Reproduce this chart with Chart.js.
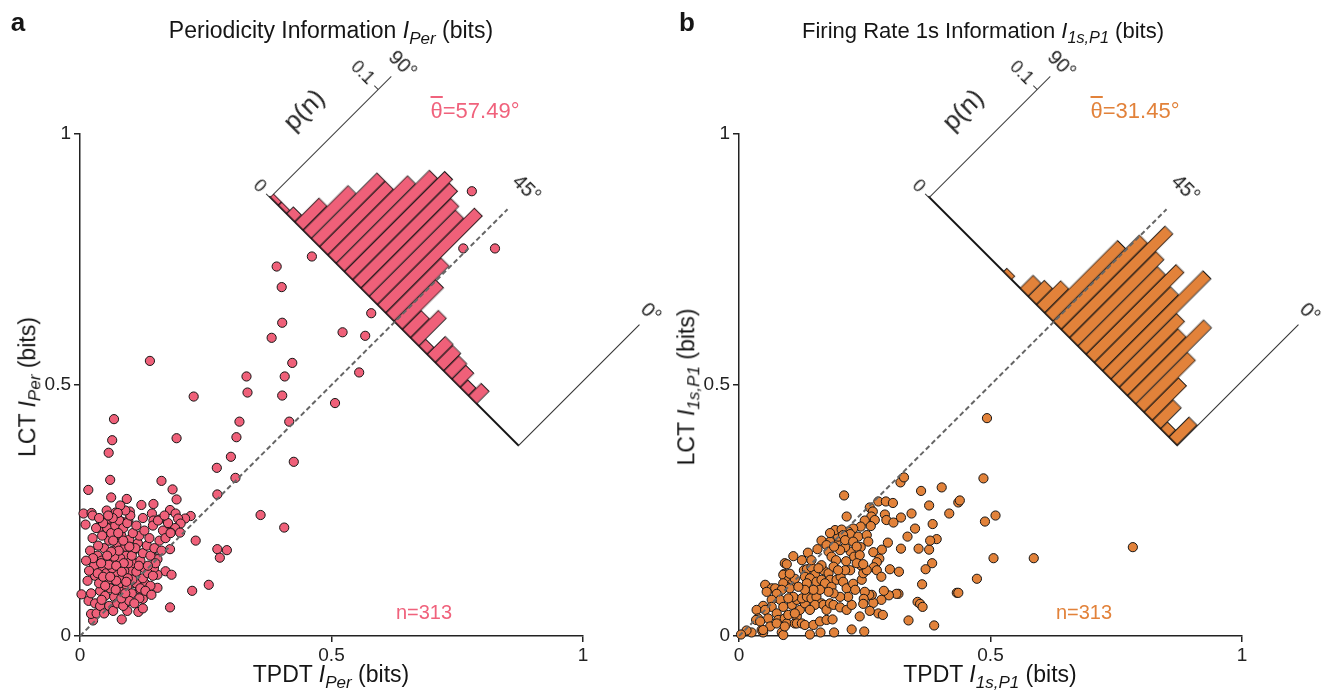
<!DOCTYPE html>
<html>
<head>
<meta charset="utf-8">
<script src="https://cdn.jsdelivr.net/npm/chart.js@4.4.0/dist/chart.umd.min.js"></script>
<style>
  body { margin:0; width:1332px; height:696px; position:relative; overflow:hidden; background:#fff;
         font-family:'Liberation Sans', Arial, sans-serif; color:#151515; }
  canvas { position:absolute; }
  .hist { z-index:1; transform:rotate(45deg); transform-origin:52px 221px; }
  .sc { z-index:2; top:0; }
  .t { position:absolute; z-index:3; transform:translate(-50%,-50%); white-space:nowrap; line-height:1; }
  .t sub { font-size:0.74em; vertical-align:-0.32em; font-style:italic; }
  .ylab { transform:translate(-50%,-50%) rotate(-90deg); }
  .panel { font-weight:bold; font-size:26px; }
  .axt { font-size:23px; }
  .ov { text-decoration:overline; }
</style>
</head>
<body>
<canvas id="histA" class="hist" width="423" height="245" style="left:218px;top:-24px"></canvas>
<canvas id="histB" class="hist" width="423" height="245" style="left:877px;top:-24px"></canvas>
<canvas id="scA" class="sc" width="660" height="696" style="left:0"></canvas>
<canvas id="scB" class="sc" width="660" height="696" style="left:659px"></canvas>

<div class="t panel" style="left:18px;top:22px">a</div>
<div class="t" style="left:331px;top:33px;font-size:23px">Periodicity Information <i>I</i><sub>Per</sub> (bits)</div>
<div class="t" style="left:475px;top:111px;font-size:22px;color:#F0627C"><span class="ov">θ</span>=57.49°</div>
<div class="t" style="left:424px;top:612px;font-size:20px;color:#F0627C">n=313</div>
<div class="t axt" style="left:331px;top:677px">TPDT <i>I</i><sub>Per</sub> (bits)</div>
<div class="t axt ylab" style="left:30px;top:387px">LCT <i>I</i><sub>Per</sub> (bits)</div>

<div class="t panel" style="left:687px;top:22px">b</div>
<div class="t" style="left:983px;top:33px;font-size:22px">Firing Rate 1s Information <i>I</i><sub>1s,P1</sub> (bits)</div>
<div class="t" style="left:1135px;top:111px;font-size:22px;color:#E2823A"><span class="ov">θ</span>=31.45°</div>
<div class="t" style="left:1084px;top:612px;font-size:20px;color:#E2823A">n=313</div>
<div class="t axt" style="left:990px;top:677px">TPDT <i>I</i><sub>1s,P1</sub> (bits)</div>
<div class="t axt ylab" style="left:689px;top:387px">LCT <i>I</i><sub>1s,P1</sub> (bits)</div>

<script>
const FONT = "'Liberation Sans', Arial, sans-serif";
Chart.defaults.font.family = FONT;
Chart.defaults.color = '#222';

const PINK = '#EF6079';
const ORANGE = '#E2823A';

// scatter axes
const axisTicks = [0, 0.5, 1];
const diagX = [0, 0.85];
const diagY = [0, 0.85];

// angle histogram: 3° bins, listed from the 90° end to the 0° end
const binLo = [87, 84, 81, 78, 75, 72, 69, 66, 63, 60, 57, 54, 51, 48, 45,
               42, 39, 36, 33, 30, 27, 24, 21, 18, 15, 12, 9, 6, 3, 0];
const angleTicks = [90, 45, 0];
const pTicks = [0, 0.1];
const pMax = 0.1118;

const pPer = [0.0032, 0.0032, 0.0064, 0.0224, 0.0415, 0.0607, 0.0607, 0.0735, 0.0863, 0.0927,
              0.0895, 0.0831, 0.0799, 0.0895, 0.0511, 0.0383, 0.0176, 0.0256, 0.0064, 0.0166,
              0.0160, 0.0140, 0.0128, 0.0070, 0.0115, 0, 0, 0, 0, 0];
const p1s = [0, 0, 0, 0, 0, 0, 0, 0, 0, 0.0032,
             0, 0.0120, 0.0150, 0.0224, 0.0671, 0.0799, 0.0958, 0.0799, 0.0735, 0.0831,
             0.0703, 0.0927, 0.0607, 0.0543, 0.0703, 0.0479, 0.0319, 0.0192, 0.0064, 0.0185];

// TPDT vs LCT, periodicity information (x, y)
const perPts = [
  [0.779,0.886],[0.762,0.772],[0.825,0.772],[0.461,0.756],[0.391,0.736],[0.401,0.695],[0.579,0.643],
  [0.402,0.624],[0.522,0.605],[0.567,0.598],[0.381,0.594],[0.139,0.548],[0.422,0.544],[0.555,0.525],
  [0.331,0.517],[0.407,0.517],[0.333,0.485],[0.402,0.479],[0.226,0.477],[0.507,0.464],[0.0676,0.432],
  [0.317,0.427],[0.416,0.427],[0.311,0.396],[0.192,0.394],[0.064,0.390],[0.057,0.365],[0.300,0.357],
  [0.425,0.347],[0.272,0.335],[0.309,0.315],[0.060,0.311],[0.162,0.309],[0.184,0.292],[0.0165,0.291],
  [0.273,0.282],[0.062,0.276],[0.093,0.273],[0.192,0.272],[0.146,0.263],[0.122,0.261],[0.359,0.241],
  [0.406,0.216],[0.220,0.239],[0.209,0.234],[0.230,0.190],[0.273,0.173],[0.292,0.171],[0.278,0.156],
  [0.256,0.102],[0.223,0.090],
  [0.007,0.244],[0.023,0.245],[0.025,0.240],[0.011,0.222],[0.053,0.250],[0.071,0.246],[0.041,0.231],
  [0.053,0.227],[0.060,0.216],[0.038,0.215],[0.082,0.228],[0.096,0.230],[0.099,0.248],[0.125,0.235],
  [0.143,0.244],[0.146,0.230],[0.158,0.232],[0.179,0.251],[0.190,0.244],[0.195,0.234],[0.200,0.224],
  [0.174,0.213],[0.189,0.215],[0.199,0.206],[0.180,0.206],[0.179,0.173],[0.149,0.155],[0.154,0.153],
  [0.170,0.129],[0.182,0.122],[0.154,0.122],[0.147,0.135],[0.129,0.105],[0.154,0.096],[0.125,0.074],
  [0.116,0.048],[0.094,0.050],[0.179,0.057],[0.083,0.033],[0.026,0.031],[0.022,0.044],[0.033,0.045],
  [0.003,0.083],[0.017,0.070],[0.109,0.105],[0.119,0.092],
  [0.030,0.120],[0.045,0.135],[0.055,0.110],[0.062,0.150],[0.070,0.125],[0.078,0.140],[0.085,0.115],
  [0.092,0.160],[0.100,0.130],[0.108,0.145],[0.035,0.160],[0.048,0.175],[0.058,0.190],[0.066,0.170],
  [0.074,0.185],[0.082,0.200],[0.090,0.178],[0.098,0.192],[0.106,0.170],[0.115,0.185],[0.040,0.090],
  [0.050,0.080],[0.060,0.095],[0.068,0.078],[0.076,0.100],[0.084,0.088],[0.094,0.098],[0.103,0.085],
  [0.112,0.105],[0.120,0.095],[0.028,0.140],[0.038,0.105],[0.043,0.150],[0.052,0.125],[0.064,0.135],
  [0.072,0.110],[0.080,0.155],[0.088,0.130],[0.096,0.145],[0.104,0.112],[0.112,0.128],[0.120,0.150],
  [0.128,0.135],[0.125,0.165],[0.133,0.180],[0.140,0.160],[0.118,0.200],[0.128,0.210],[0.138,0.195],
  [0.148,0.175],[0.020,0.170],[0.025,0.195],[0.032,0.215],[0.044,0.200],[0.054,0.215],[0.062,0.205],
  [0.070,0.220],[0.078,0.230],[0.086,0.215],[0.094,0.225],[0.015,0.110],[0.022,0.085],[0.030,0.065],
  [0.040,0.060],[0.048,0.045],[0.058,0.060],[0.066,0.050],[0.074,0.065],[0.086,0.060],[0.098,0.070],
  [0.035,0.125],[0.046,0.118],[0.057,0.142],[0.068,0.158],[0.077,0.170],[0.087,0.145],[0.095,0.115],
  [0.103,0.160],[0.110,0.175],[0.117,0.140],[0.060,0.118],[0.071,0.092],[0.082,0.075],[0.090,0.085],
  [0.050,0.100],[0.043,0.072],[0.036,0.180],[0.026,0.155],[0.018,0.130],[0.012,0.150],[0.150,0.145],
  [0.158,0.190],[0.165,0.210],[0.145,0.220],[0.155,0.230],[0.170,0.195],[0.162,0.170],[0.175,0.225],
  [0.168,0.240],[0.180,0.205],[0.105,0.205],[0.112,0.220],[0.100,0.240],[0.090,0.250],[0.080,0.260],
  [0.075,0.245],[0.065,0.235],[0.056,0.240],[0.046,0.225],[0.038,0.235],[0.125,0.115],[0.135,0.125],
  [0.140,0.100],[0.130,0.090],[0.145,0.120],[0.118,0.075],[0.108,0.065],[0.125,0.055],[0.135,0.140],
  [0.142,0.082],[0.062,0.168],[0.072,0.140],[0.083,0.128],[0.092,0.108],[0.098,0.178],[0.086,0.190],
  [0.076,0.205],[0.066,0.190],[0.054,0.160],[0.042,0.145]
];

// TPDT vs LCT, firing rate 1s information (x, y)
const fr1sPts = [
  [0.486,0.314],[0.403,0.296],[0.362,0.289],[0.321,0.306],[0.328,0.316],[0.209,0.280],[0.436,0.266],
  [0.439,0.270],[0.378,0.260],[0.277,0.268],[0.292,0.268],[0.306,0.265],[0.260,0.256],[0.266,0.248],
  [0.263,0.238],[0.290,0.242],[0.293,0.231],[0.307,0.226],[0.322,0.236],[0.343,0.244],[0.418,0.244],
  [0.489,0.228],[0.510,0.240],[0.385,0.223],[0.350,0.214],[0.335,0.198],[0.296,0.186],[0.214,0.238],
  [0.493,0.434],[0.586,0.155],[0.783,0.177],
  [0.250,0.230],[0.270,0.231],[0.262,0.219],[0.242,0.218],[0.227,0.214],[0.217,0.208],[0.221,0.203],
  [0.237,0.198],[0.254,0.201],[0.257,0.188],[0.242,0.177],[0.222,0.168],[0.211,0.177],[0.201,0.171],
  [0.194,0.188],[0.197,0.198],[0.191,0.211],[0.204,0.212],[0.207,0.201],[0.181,0.188],[0.164,0.190],
  [0.156,0.173],[0.174,0.181],[0.178,0.168],[0.189,0.178],[0.184,0.158],[0.193,0.151],[0.213,0.149],
  [0.181,0.205],[0.211,0.191],[0.227,0.188],[0.234,0.178],[0.229,0.158],[0.240,0.161],
  [0.322,0.174],[0.357,0.174],[0.378,0.172],[0.393,0.193],[0.380,0.190],[0.284,0.172],[0.267,0.167],
  [0.279,0.154],[0.274,0.147],[0.268,0.137],[0.274,0.131],[0.300,0.133],[0.318,0.128],[0.384,0.145],
  [0.371,0.133],[0.506,0.155],[0.473,0.114],[0.364,0.103],[0.433,0.086],[0.436,0.086],[0.355,0.068],
  [0.360,0.064],[0.365,0.058],[0.337,0.031],[0.388,0.021],[0.317,0.084],[0.313,0.084],[0.298,0.081],
  [0.283,0.118],[0.288,0.090],[0.283,0.072],[0.277,0.045],[0.286,0.042],[0.267,0.066],[0.264,0.082],
  [0.259,0.082],[0.250,0.088],[0.248,0.074],[0.247,0.064],[0.240,0.039],[0.260,0.050],[0.249,0.009],
  [0.224,0.013],[0.189,0.007],[0.162,0.007],[0.141,0.003],[0.085,0.007],[0.088,0.002],[0.048,0.007],
  [0.045,0.012],[0.025,0.007],[0.015,0.011],[0.004,0.003],
  [0.108,0.159],[0.091,0.145],[0.095,0.143],[0.090,0.124],[0.088,0.122],[0.098,0.111],[0.105,0.104],
  [0.111,0.114],[0.101,0.124],[0.137,0.166],[0.129,0.131],[0.135,0.133],[0.144,0.137],[0.151,0.122],
  [0.131,0.118],[0.141,0.115],[0.135,0.105],[0.154,0.108],[0.164,0.112],[0.168,0.131],[0.178,0.125],
  [0.181,0.112],[0.171,0.105],[0.184,0.098],[0.194,0.112],[0.202,0.118],[0.207,0.108],[0.214,0.095],
  [0.227,0.104],[0.231,0.092],[0.244,0.112],[0.247,0.125],[0.254,0.131],[0.242,0.141],[0.234,0.145],
  [0.247,0.143],[0.221,0.131],[0.211,0.131],[0.125,0.151],[0.144,0.151],[0.164,0.141],[0.158,0.135],
  [0.188,0.138],[0.197,0.131],[0.095,0.098],[0.088,0.105],[0.101,0.095],
  [0.052,0.102],[0.065,0.095],[0.072,0.095],[0.085,0.092],[0.055,0.088],[0.075,0.084],[0.082,0.072],
  [0.065,0.072],[0.048,0.060],[0.065,0.058],[0.035,0.052],[0.052,0.052],[0.038,0.035],[0.034,0.032],
  [0.058,0.035],[0.075,0.045],[0.078,0.032],[0.091,0.035],[0.095,0.025],[0.111,0.025],[0.098,0.042],
  [0.115,0.039],[0.121,0.052],[0.105,0.062],[0.115,0.072],[0.131,0.065],[0.125,0.075],[0.135,0.078],
  [0.144,0.075],[0.154,0.078],[0.164,0.065],[0.151,0.062],[0.141,0.052],[0.168,0.062],[0.174,0.052],
  [0.181,0.065],[0.188,0.062],[0.201,0.057],[0.214,0.052],[0.224,0.062],[0.217,0.078],[0.201,0.078],
  [0.188,0.085],[0.178,0.088],[0.161,0.092],[0.148,0.092],[0.131,0.092],[0.118,0.098],[0.108,0.078],
  [0.098,0.075],[0.088,0.058],[0.115,0.025],[0.125,0.025],[0.131,0.022],[0.148,0.022],[0.161,0.029],
  [0.174,0.032],[0.186,0.033],[0.111,0.045],[0.062,0.019],[0.048,0.012],[0.042,0.029],[0.075,0.025],
  [0.091,0.019]
];

function fixWidth(w) { return s => { s.width = w; }; }
function fixHeight(h) { return s => { s.height = h; }; }
function setTicks(vals) { return s => { s.ticks = vals.map(v => ({ value: v })); }; }

function makeScatter(id, pts, color) {
  const diag = diagX.map((x, i) => ({ x, y: diagY[i] }));
  const axisOpts = {
    type: 'linear', min: 0, max: 1,
    afterBuildTicks: setTicks(axisTicks),
    ticks: { font: { size: 19 }, color: '#222', maxRotation: 0, autoSkip: false, callback: v => String(v) },
    grid: { drawOnChartArea: false, tickLength: 6, color: '#222', lineWidth: 1.5 },
    border: { color: '#222', width: 1.5 }
  };
  return new Chart(document.getElementById(id), {
    type: 'scatter',
    data: {
      datasets: [
        { type: 'line', data: diag, borderColor: '#666', borderWidth: 2, borderDash: [5, 3],
          pointRadius: 0, order: 0, clip: false },
        { data: pts.map(p => ({ x: p[0], y: p[1] })), backgroundColor: color, borderColor: '#151515',
          borderWidth: 1, pointRadius: 4.6, order: 1, clip: false }
      ]
    },
    options: {
      responsive: false, animation: false, events: [],
      layout: { padding: { left: 0, right: 77, top: 134, bottom: 0 } },
      plugins: { legend: { display: false }, tooltip: { enabled: false } },
      scales: {
        x: { ...axisOpts, position: 'bottom', ticks: { ...axisOpts.ticks, padding: 2 }, afterFit: fixHeight(60) },
        y: { ...axisOpts, position: 'left', ticks: { ...axisOpts.ticks, padding: 3 }, afterFit: fixWidth(80) }
      }
    }
  });
}

function makeHist(id, values, color) {
  // drawn unrotated, the canvas is turned 45° with css
  return new Chart(document.getElementById(id), {
    type: 'bar',
    data: {
      labels: binLo.map(String),
      datasets: [{ data: values, backgroundColor: color, borderColor: '#151515', borderWidth: 1,
                   barPercentage: 1, categoryPercentage: 1 }]
    },
    options: {
      responsive: false, animation: false, events: [],
      layout: { padding: 0 },
      plugins: { legend: { display: false }, tooltip: { enabled: false } },
      scales: {
        x: { type: 'category', position: 'bottom', ticks: { display: false }, grid: { display: false },
             border: { display: true, color: '#111', width: 2 }, afterFit: fixHeight(24) },
        xTop: { type: 'linear', position: 'top', min: 0, max: 90, reverse: true, display: true, offset: false,
                afterBuildTicks: setTicks(angleTicks),
                ticks: { callback: v => v + '°', font: { size: 20 }, color: '#222', padding: -4,
                         maxRotation: 0, autoSkip: false },
                grid: { display: false, offset: false }, border: { display: false }, afterFit: fixHeight(50) },
        y: { type: 'linear', position: 'left', min: 0, max: pMax,
             afterBuildTicks: setTicks(pTicks),
             ticks: { callback: v => (v === 0 ? '0' : '0.1'), font: { size: 18 }, color: '#222', padding: 5 },
             grid: { drawOnChartArea: false, tickLength: 5, color: '#333', lineWidth: 1 },
             border: { color: '#333', width: 1 },
             title: { display: true, text: 'p(n)', font: { size: 26 }, color: '#222', padding: 0 },
             afterFit: fixWidth(52) },
        y2: { type: 'linear', position: 'right', min: 0, max: 1, display: true,
              ticks: { display: false }, grid: { display: false },
              border: { display: true, color: '#333', width: 1 }, afterFit: fixWidth(20) }
      }
    }
  });
}

makeHist('histA', pPer, PINK);
makeHist('histB', p1s, ORANGE);
makeScatter('scA', perPts, PINK);
makeScatter('scB', fr1sPts, ORANGE);
</script>
</body>
</html>
